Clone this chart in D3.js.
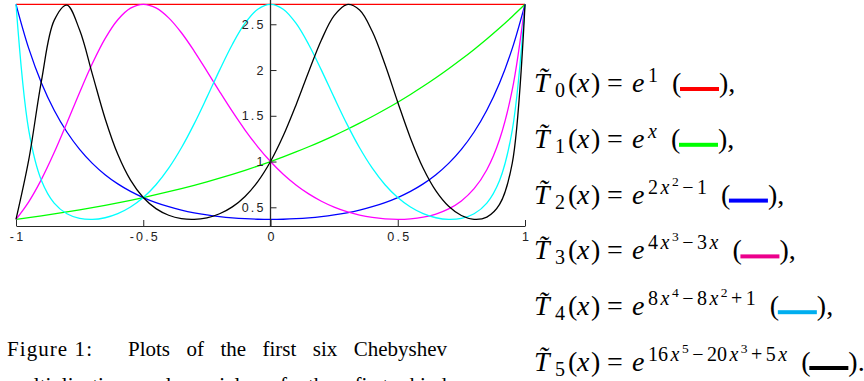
<!DOCTYPE html>
<html><head><meta charset="utf-8">
<script src="https://cdn.jsdelivr.net/npm/d3@7"></script>
<style>
html,body{margin:0;padding:0;background:#fff;overflow:hidden;}
svg{display:block;}
</style></head>
<body>
<svg id="chart" width="864" height="381"></svg>
<script>
// ---------------- data ----------------
const xValues = [-1,-0.95,-0.9,-0.85,-0.8,-0.75,-0.7,-0.65,-0.6,-0.55,-0.5,-0.45,-0.4,-0.35,-0.3,-0.25,-0.2,-0.15,-0.1,-0.05,0,0.05,0.1,0.15,0.2,0.25,0.3,0.35,0.4,0.45,0.5,0.55,0.6,0.65,0.7,0.75,0.8,0.85,0.9,0.95,1];

const t0Values = [2.7183,2.7183,2.7183,2.7183,2.7183,2.7183,2.7183,2.7183,2.7183,2.7183,2.7183,2.7183,2.7183,2.7183,2.7183,2.7183,2.7183,2.7183,2.7183,2.7183,2.7183,2.7183,2.7183,2.7183,2.7183,2.7183,2.7183,2.7183,2.7183,2.7183,2.7183,2.7183,2.7183,2.7183,2.7183,2.7183,2.7183,2.7183,2.7183,2.7183,2.7183];
const t1Values = [0.3679,0.3867,0.4066,0.4274,0.4493,0.4724,0.4966,0.5220,0.5488,0.5769,0.6065,0.6376,0.6703,0.7047,0.7408,0.7788,0.8187,0.8607,0.9048,0.9512,1.0000,1.0513,1.1052,1.1618,1.2214,1.2840,1.3499,1.4191,1.4918,1.5683,1.6487,1.7333,1.8221,1.9155,2.0138,2.1170,2.2255,2.3396,2.4596,2.5857,2.7183];
const t2Values = [2.7183,2.2368,1.8589,1.5605,1.3231,1.1331,0.9802,0.8564,0.7558,0.6737,0.6065,0.5516,0.5066,0.4700,0.4404,0.4169,0.3985,0.3848,0.3753,0.3697,0.3679,0.3697,0.3753,0.3848,0.3985,0.4169,0.4404,0.4700,0.5066,0.5516,0.6065,0.6737,0.7558,0.8564,0.9802,1.1331,1.3231,1.5605,1.8589,2.2368,2.7183];
const t3Values = [0.3679,0.5602,0.8057,1.0980,1.4219,1.7551,2.0709,2.3431,2.5498,2.6764,2.7183,2.6791,2.5702,2.4073,2.2078,1.9887,1.7647,1.5473,1.3445,1.1613,1.0000,0.8611,0.7438,0.6463,0.5667,0.5028,0.4529,0.4154,0.3891,0.3733,0.3679,0.3736,0.3922,0.4268,0.4829,0.5698,0.7033,0.9107,1.2411,1.7851,2.7183];
const t4Values = [2.7183,1.3446,0.7936,0.5466,0.4303,0.3796,0.3682,0.3860,0.4303,0.5026,0.6065,0.7468,0.9276,1.1503,1.4117,1.7011,1.9993,2.2796,2.5114,2.6646,2.7183,2.6646,2.5114,2.2796,1.9993,1.7011,1.4117,1.1503,0.9276,0.7468,0.6065,0.5026,0.4303,0.3860,0.3682,0.3796,0.4303,0.5466,0.7936,1.3446,2.7183];
const t5Values = [0.3679,1.0172,1.8818,2.5426,2.7100,2.4366,1.9558,1.4712,1.0788,0.7963,0.6065,0.4854,0.4132,0.3766,0.3683,0.3855,0.4295,0.5047,0.6187,0.7808,1.0000,1.2808,1.6163,1.9812,2.3282,2.5938,2.7153,2.6552,2.4202,2.0601,1.6487,1.2558,0.9270,0.6797,0.5113,0.4104,0.3690,0.3933,0.5314,0.9831,2.7183];

const xTicks = [-1,-0.5,0,0.5,1];
const xTickLabels = ["-1","-0.5","0","0.5","1"];
const yTicks = [0.5,1,1.5,2,2.5];
const yTickLabels = ["0.5","1","1.5","2","2.5"];

const seriesIndex = ["0","1","2","3","4","5"];
const lineColors = ["#ff0000","#00ff00","#0000ff","#ff00ff","#00ffff","#000000"];
const swatchColors = ["#ff0000","#00ff00","#0000ff","#ec008c","#00aeef","#000000"];
// exponent pieces: [text, kind]  n = upright, i = italic, o = binary operator, s = second-level superscript
const legendExponents = [
  [["1","n"]],
  [["x","i"]],
  [["2","n"],["x","i"],["2","s"],["\u2212","o"],["1","n"]],
  [["4","n"],["x","i"],["3","s"],["\u2212","o"],["3","n"],["x","i"]],
  [["8","n"],["x","i"],["4","s"],["\u2212","o"],["8","n"],["x","i"],["2","s"],["+","o"],["1","n"]],
  [["16","n"],["x","i"],["5","s"],["\u2212","o"],["20","n"],["x","i"],["3","s"],["+","o"],["5","n"],["x","i"]]
];
const legendEnd = [",",",",",",",",",","."];
const captionLine1a = "Figure 1:";
const captionLine1b = "Plots of the first six Chebyshev";
const captionLine2 = "multiplicative polynomials of the first kind.";

const seriesValues = [t0Values,t1Values,t2Values,t3Values,t4Values,t5Values];

// ---------------- drawing ----------------
const svg = d3.select("#chart");
const x = d3.scaleLinear().domain([-1,1]).range([16,525]);
const y = d3.scaleLinear().domain([0.3679,2.7183]).range([219.4,4.3]);
const axisY = 226;
const axisColor = "#262626";

const line = d3.line()
  .x((d,i)=>x(xValues[i]))
  .y(d=>y(d))
  .curve(d3.curveCatmullRom.alpha(0.5));

svg.append("g").selectAll("path")
  .data(seriesValues)
  .join("path")
  .attr("d", d=>line(d))
  .attr("fill","none")
  .attr("stroke",(d,i)=>lineColors[i])
  .attr("stroke-width",1.3);

// bottom axis
const xAxis = d3.axisBottom(x)
  .tickValues(xTicks)
  .tickFormat((d,i)=>xTickLabels[i])
  .tickSizeInner(-6).tickSizeOuter(0).tickPadding(6);
const gx = svg.append("g").attr("transform",`translate(0,${axisY})`).call(xAxis);
gx.select(".domain").attr("stroke",axisColor).attr("stroke-width",1);
gx.selectAll(".tick line").attr("stroke",axisColor);
gx.selectAll(".tick text")
  .attr("font-family","'Liberation Sans', Arial, sans-serif")
  .attr("font-size",12.5).attr("fill","#222")
  .style("letter-spacing","2.2px")
  .attr("dx","1.1px");

// vertical axis at x = 0
svg.append("line")
  .attr("x1",x(0)).attr("x2",x(0))
  .attr("y1",axisY).attr("y2",0)
  .attr("stroke",axisColor).attr("stroke-width",1.3);
const yAxis = d3.axisLeft(y)
  .tickValues(yTicks)
  .tickFormat((d,i)=>yTickLabels[i])
  .tickSizeInner(-6).tickSizeOuter(0).tickPadding(7);
const gy = svg.append("g").attr("transform",`translate(${x(0)},0)`).call(yAxis);
gy.select(".domain").remove();
gy.selectAll(".tick line").attr("stroke",axisColor);
gy.selectAll(".tick text")
  .attr("font-family","'Liberation Sans', Arial, sans-serif")
  .attr("font-size",12.5).attr("fill","#222")
  .style("letter-spacing","2.2px")
  .attr("dx","2.2px");

// legend equations
const serif = "'Liberation Serif', 'Times New Roman', serif";
const legendY0 = 92, legendStep = 55.8;
const baseSize = 28, subSize = 20, supSize = 20, supSupSize = 13.5;
seriesIndex.forEach((k,i)=>{
  const by = legendY0 + i*legendStep;
  const t = svg.append("text")
    .attr("font-family",serif).attr("font-size",baseSize).attr("fill","#000");
  t.append("tspan").attr("x",534).attr("y",by).attr("font-style","italic").text("T\u0303");
  t.append("tspan").attr("x",555).attr("y",by+5).attr("font-size",subSize).text(k);
  t.append("tspan").attr("x",568).attr("y",by).text("(");
  t.append("tspan").attr("x",577).attr("y",by).attr("font-style","italic").text("x");
  t.append("tspan").attr("x",591).attr("y",by).text(")");
  t.append("tspan").attr("x",607).attr("y",by).text("=");
  t.append("tspan").attr("x",632).attr("y",by).attr("font-style","italic").text("e");
  let prev = null;
  legendExponents[i].forEach(([txt,kind],j)=>{
    const ts = t.append("tspan")
      .attr("y", by + (kind==="s" ? -18 : -10))
      .attr("font-size", kind==="s" ? supSupSize : supSize)
      .text(txt);
    if (j===0) ts.attr("x",648);
    else {
      let dx = 0;
      if (kind==="i") dx = 2.5;
      if (kind==="s") dx = 2.5;
      if (kind==="o" || prev==="o") dx = 3.5;
      ts.attr("dx",dx);
    }
    if (kind==="i") ts.attr("font-style","italic");
    prev = kind;
  });
  const bb = t.node().getBBox();
  const px = bb.x + bb.width + 14;
  svg.append("text").attr("x",px).attr("y",by)
    .attr("font-family",serif).attr("font-size",baseSize).text("(");
  svg.append("rect")
    .attr("x",px+8).attr("y",by-5).attr("width",39).attr("height",4)
    .attr("fill",swatchColors[i]);
  svg.append("text").attr("x",px+47).attr("y",by)
    .attr("font-family",serif).attr("font-size",baseSize).text(")"+legendEnd[i]);
});

// caption (justified lines: stretch word spacing)
function justify(sel, target){
  const n = sel.text().split(" ").length - 1;
  const w = sel.node().getComputedTextLength();
  if (n>0) sel.attr("word-spacing", Math.max(0,(target-w)/n));
}
svg.append("text").attr("x",7).attr("y",356)
  .attr("font-family",serif).attr("font-size",21)
  .attr("textLength",85).attr("lengthAdjust","spacing").text(captionLine1a);
const c1 = svg.append("text").attr("x",128).attr("y",356)
  .attr("font-family",serif).attr("font-size",21).text(captionLine1b);
justify(c1,319);
const c2 = svg.append("text").attr("x",7).attr("y",392)
  .attr("font-family",serif).attr("font-size",21).text(captionLine2);
justify(c2,445);
</script>
</body></html>
